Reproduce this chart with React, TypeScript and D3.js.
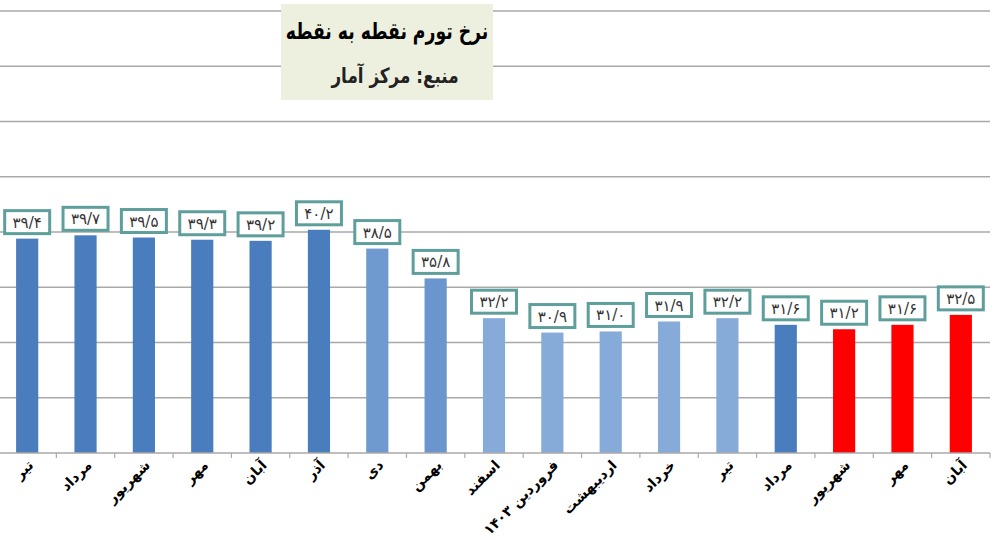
import React from "react";
import * as d3 from "d3";

const categories = [
  "تیر", "مرداد", "شهریور", "مهر", "آبان", "آذر", "دی", "بهمن", "اسفند",
  "فروردین ۱۴۰۳", "اردیبهشت", "خرداد", "تیر", "مرداد", "شهریور", "مهر", "آبان",
];
const values = [39.4, 39.7, 39.5, 39.3, 39.2, 40.2, 38.5, 35.8, 32.2, 30.9, 31.0, 31.9, 32.2, 31.6, 31.2, 31.6, 32.5];
const barColors = [
  "#4a7dbd", "#4a7dbd", "#4a7dbd", "#4a7dbd", "#4a7dbd", "#4a7dbd",
  "#6f9ad0", "#6a96cd", "#86abd8", "#86abd8", "#86abd8", "#86abd8", "#86abd8",
  "#4a7dbd", "#ff0000", "#ff0000", "#ff0000",
];
const yTicks = [20, 25, 30, 35, 40, 45, 50, 55, 60];
const title = "نرخ تورم نقطه به نقطه";
const source = "منبع: مرکز آمار";

const faDigits = "۰۱۲۳۴۵۶۷۸۹";
const toFa = (v: number) =>
  v.toFixed(1).replace(/\d/g, (d) => faDigits[+d]).replace(".", "/");

export default function App() {
  const W = 1000, H = 540;
  const y = d3.scaleLinear().domain([20, 60]).range([453, 11]);
  const x = d3
    .scaleBand<number>()
    .domain(values.map((_, i) => i))
    .range([-2, 990])
    .paddingInner(0.62)
    .paddingOuter(0.31);
  const step = x.step();
  const font = "'DejaVu Sans', sans-serif";
  const bounds = d3.range(values.length + 1).map((i) => -2 + i * step);

  return (
    <svg width={W} height={H} style={{ position: "fixed", left: 0, top: 0, background: "#fff" }}>
      <rect x={0} y={0} width={W} height={H} fill="#fff" />
      {yTicks.slice(1).map((t) => (
        <line key={t} x1={0} x2={990} y1={y(t)} y2={y(t)} stroke="#a9a9a9" strokeWidth={1.5} />
      ))}
      {values.map((v, i) => (
        <rect key={i} x={x(i)} y={y(v)} width={x.bandwidth()} height={y(20) - y(v)} fill={barColors[i]} />
      ))}
      <line x1={0} x2={990} y1={y(20)} y2={y(20)} stroke="#a9a9a9" strokeWidth={1.5} />
      {bounds.map((b, i) => (
        <line key={i} x1={b} x2={b} y1={y(20)} y2={y(20) + 5} stroke="#a9a9a9" strokeWidth={1.2} />
      ))}
      {values.map((v, i) => {
        const cx = (x(i) as number) + x.bandwidth() / 2;
        const bw = 45, bh = 23;
        const top = y(v) - 5 - bh;
        return (
          <g key={i}>
            <rect x={cx - bw / 2} y={top} width={bw} height={bh} fill="#fff" stroke="#5e9f9c" strokeWidth={3} />
            <text x={cx} y={top + bh / 2 + 5.5} textAnchor="middle" fontFamily={font} fontSize={15} fill="#333">
              {toFa(v)}
            </text>
          </g>
        );
      })}
      {categories.map((c, i) => {
        const cx = (x(i) as number) + x.bandwidth() / 2 + 7;
        return (
          <text
            key={i}
            transform={`translate(${cx},${466}) rotate(-45)`}
            textAnchor="end"
            fontFamily={font}
            fontWeight="bold"
            fontSize={14}
            fill="#000"
          >
            {c}
          </text>
        );
      })}
      <rect x={281} y={4} width={212} height={96} fill="#eef0df" />
      <text transform="translate(387,39) scale(0.75,1)" textAnchor="middle" fontFamily={font} fontWeight="bold" fontSize={23} fill="#000">
        {title}
      </text>
      <text transform="translate(395,83) scale(0.8,1)" textAnchor="middle" fontFamily={font} fontWeight="bold" fontSize={21} fill="#222">
        {source}
      </text>
    </svg>
  );
}
